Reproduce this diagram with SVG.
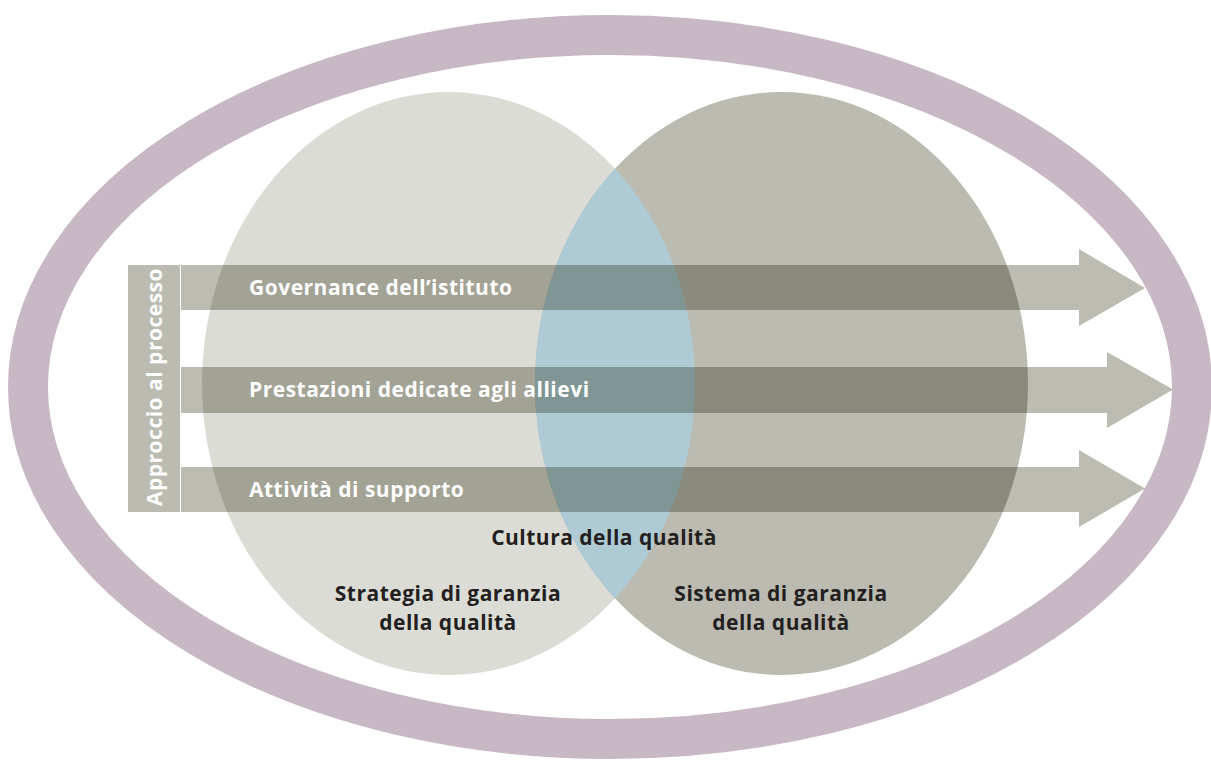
<svg xmlns="http://www.w3.org/2000/svg" width="1211" height="760" viewBox="0 0 1211 760">
<defs>
<style>
.bar{fill:#bcbcb2;mix-blend-mode:multiply}
.wt{font-family:"Open Sans","Liberation Sans",sans-serif;font-weight:700;font-size:21px;letter-spacing:0.5px;fill:#ffffff}
.dt{font-family:"Open Sans","Liberation Sans",sans-serif;font-weight:700;font-size:21px;letter-spacing:0.5px;fill:#231f20;text-anchor:middle}
</style>
<clipPath id="clipL"><ellipse cx="448.5" cy="383.5" rx="246.5" ry="291.5"/></clipPath>
</defs>
<rect width="1211" height="760" fill="#ffffff"/>
<g id="ring"><ellipse cx="610" cy="387" rx="582" ry="352" fill="none" stroke="#c8b8c3" stroke-width="40"/></g>
<g id="circles" style="isolation:isolate">
<g id="strategia"><ellipse cx="448.5" cy="383.5" rx="246.5" ry="291.5" fill="#dcdcd6"/></g>
<g id="sistema"><ellipse cx="781.5" cy="383.5" rx="246.5" ry="291.5" fill="#bbbbb1"/></g>
<g id="cultura"><ellipse cx="781.5" cy="383.5" rx="246.5" ry="291.5" fill="#aecbd5" clip-path="url(#clipL)"/></g>
<g id="connectors">
<polygon class="bar" points="181,265 1079,265 1079,249 1145,288 1079,326 1079,310 181,310"/>
<polygon class="bar" points="181,367 1107,367 1107,352 1173,389.5 1107,428 1107,413 181,413"/>
<polygon class="bar" points="181,467 1079,467 1079,450 1145,488.5 1079,527 1079,512 181,512"/>
</g>
</g>
<g id="approccio">
<rect x="128" y="265" width="52" height="247" fill="#bbbbb1"/>
<text class="wt" transform="translate(162,387) rotate(-90)" text-anchor="middle">Approccio al processo</text>
</g>
<g id="governance"><text class="wt" x="249" y="295">Governance dell’istituto</text></g>
<g id="prestazioni"><text class="wt" x="249" y="397">Prestazioni dedicate agli allievi</text></g>
<g id="attivita"><text class="wt" x="249" y="497">Attività di supporto</text></g>
<g id="cultura-label"><text class="dt" x="604" y="545">Cultura della qualità</text></g>
<g id="strategia-label"><text class="dt" x="448" y="601">Strategia di garanzia</text><text class="dt" x="448" y="630">della qualità</text></g>
<g id="sistema-label"><text class="dt" x="781" y="601">Sistema di garanzia</text><text class="dt" x="781" y="630">della qualità</text></g>
</svg>
